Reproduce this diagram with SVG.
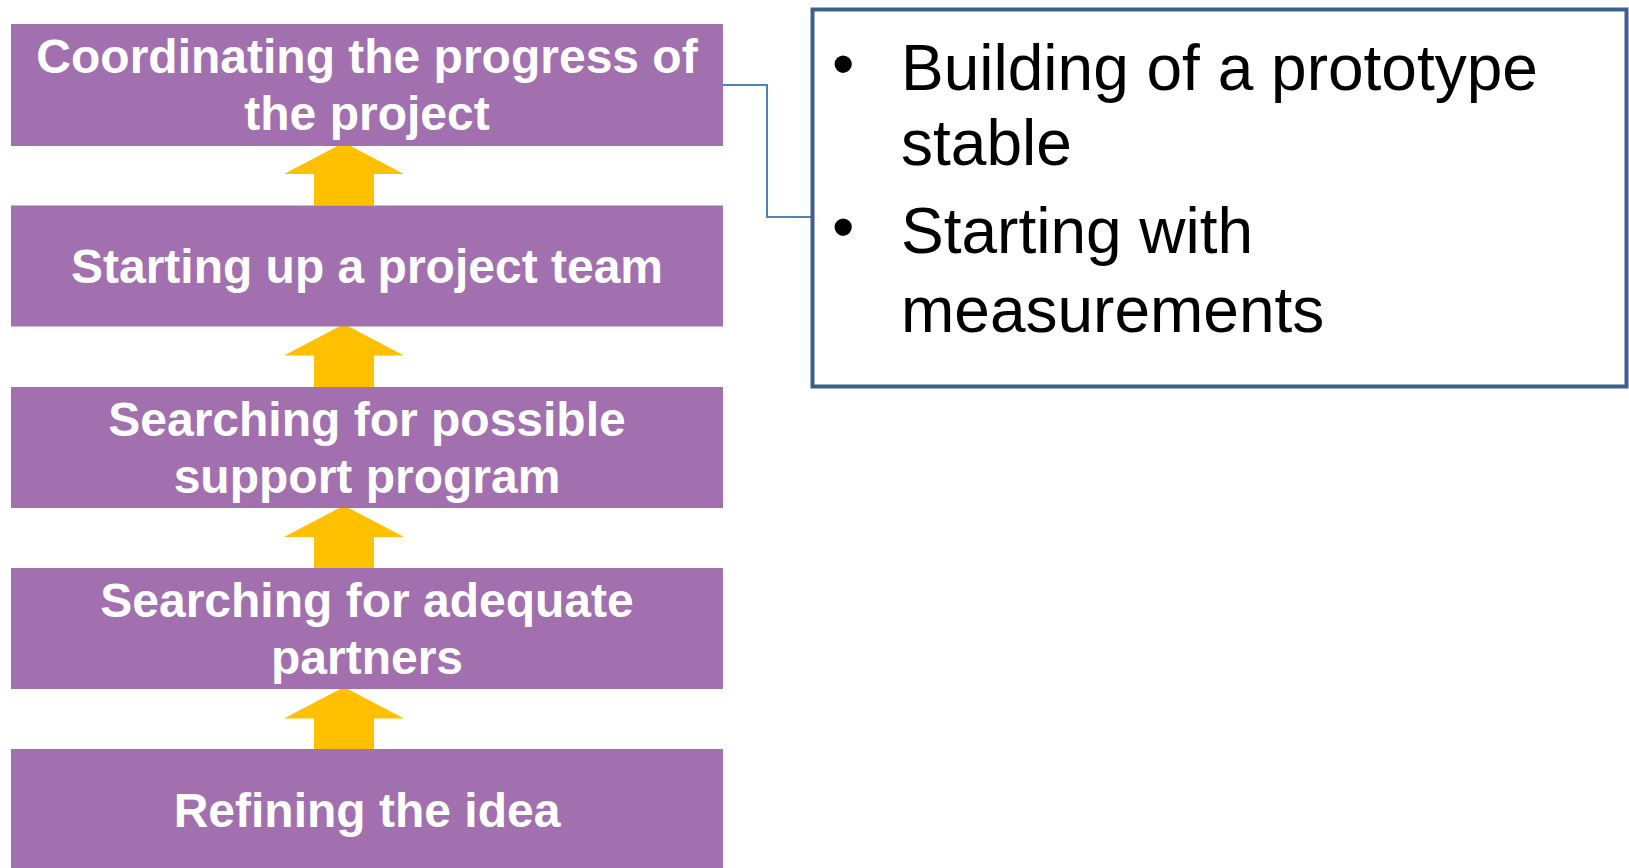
<svg xmlns="http://www.w3.org/2000/svg" width="1629" height="868" viewBox="0 0 1629 868">
<style>
.step{fill:#A26FAF}
.lbl{font-family:"Liberation Sans",Arial,sans-serif;font-weight:bold;font-size:48px;fill:#FFFFFF;text-anchor:middle}
.arrow{fill:#FFC000}
.conn{fill:none;stroke:#4F81BD;stroke-width:2}
.note{fill:#FFFFFF;stroke:#3D5F8C;stroke-width:4}
.ntxt{font-family:"Liberation Sans",Arial,sans-serif;font-size:64px;fill:#000000}
</style>
<defs>
<path id="up" d="M0,0 L60,31.5 L30,31.5 L30,63 L-30,63 L-30,31.5 L-60,31.5 Z"/>
</defs>
<rect width="1629" height="868" fill="#FFFFFF"/>
<g id="arrows">
<use href="#up" class="arrow" x="344" y="142.5"/>
<use href="#up" class="arrow" x="344" y="324"/>
<use href="#up" class="arrow" x="344" y="505.5"/>
<use href="#up" class="arrow" x="344" y="687"/>
</g>
<g id="connectors">
<polyline class="conn" points="722,85 767,85 767,217 812,217"/>
</g>
<g id="step5">
<rect class="step" x="11" y="749" width="712" height="121"/>
<text class="lbl" x="367" y="827">Refining the idea</text>
</g>
<g id="step4">
<rect class="step" x="11" y="568" width="712" height="121"/>
<text class="lbl" x="367" y="617">Searching for adequate</text>
<text class="lbl" x="367" y="674">partners</text>
</g>
<g id="step3">
<rect class="step" x="11" y="387" width="712" height="121"/>
<text class="lbl" x="367" y="436">Searching for possible</text>
<text class="lbl" x="367" y="493">support program</text>
</g>
<g id="step2">
<rect class="step" x="11" y="205.5" width="712" height="121"/>
<text class="lbl" x="367" y="283">Starting up a project team</text>
</g>
<g id="step1">
<rect class="step" x="11" y="24" width="712" height="122"/>
<text class="lbl" x="367" y="73">Coordinating the progress of</text>
<text class="lbl" x="367" y="130">the project</text>
</g>
<g id="note">
<rect class="note" x="812.5" y="9.5" width="814" height="377"/>
<text class="ntxt" x="832" y="86">•</text>
<text class="ntxt" x="901" y="90">Building of a prototype</text>
<text class="ntxt" x="901" y="165">stable</text>
<text class="ntxt" x="832" y="249">•</text>
<text class="ntxt" x="901" y="253">Starting with</text>
<text class="ntxt" x="901" y="332">measurements</text>
</g>
</svg>
